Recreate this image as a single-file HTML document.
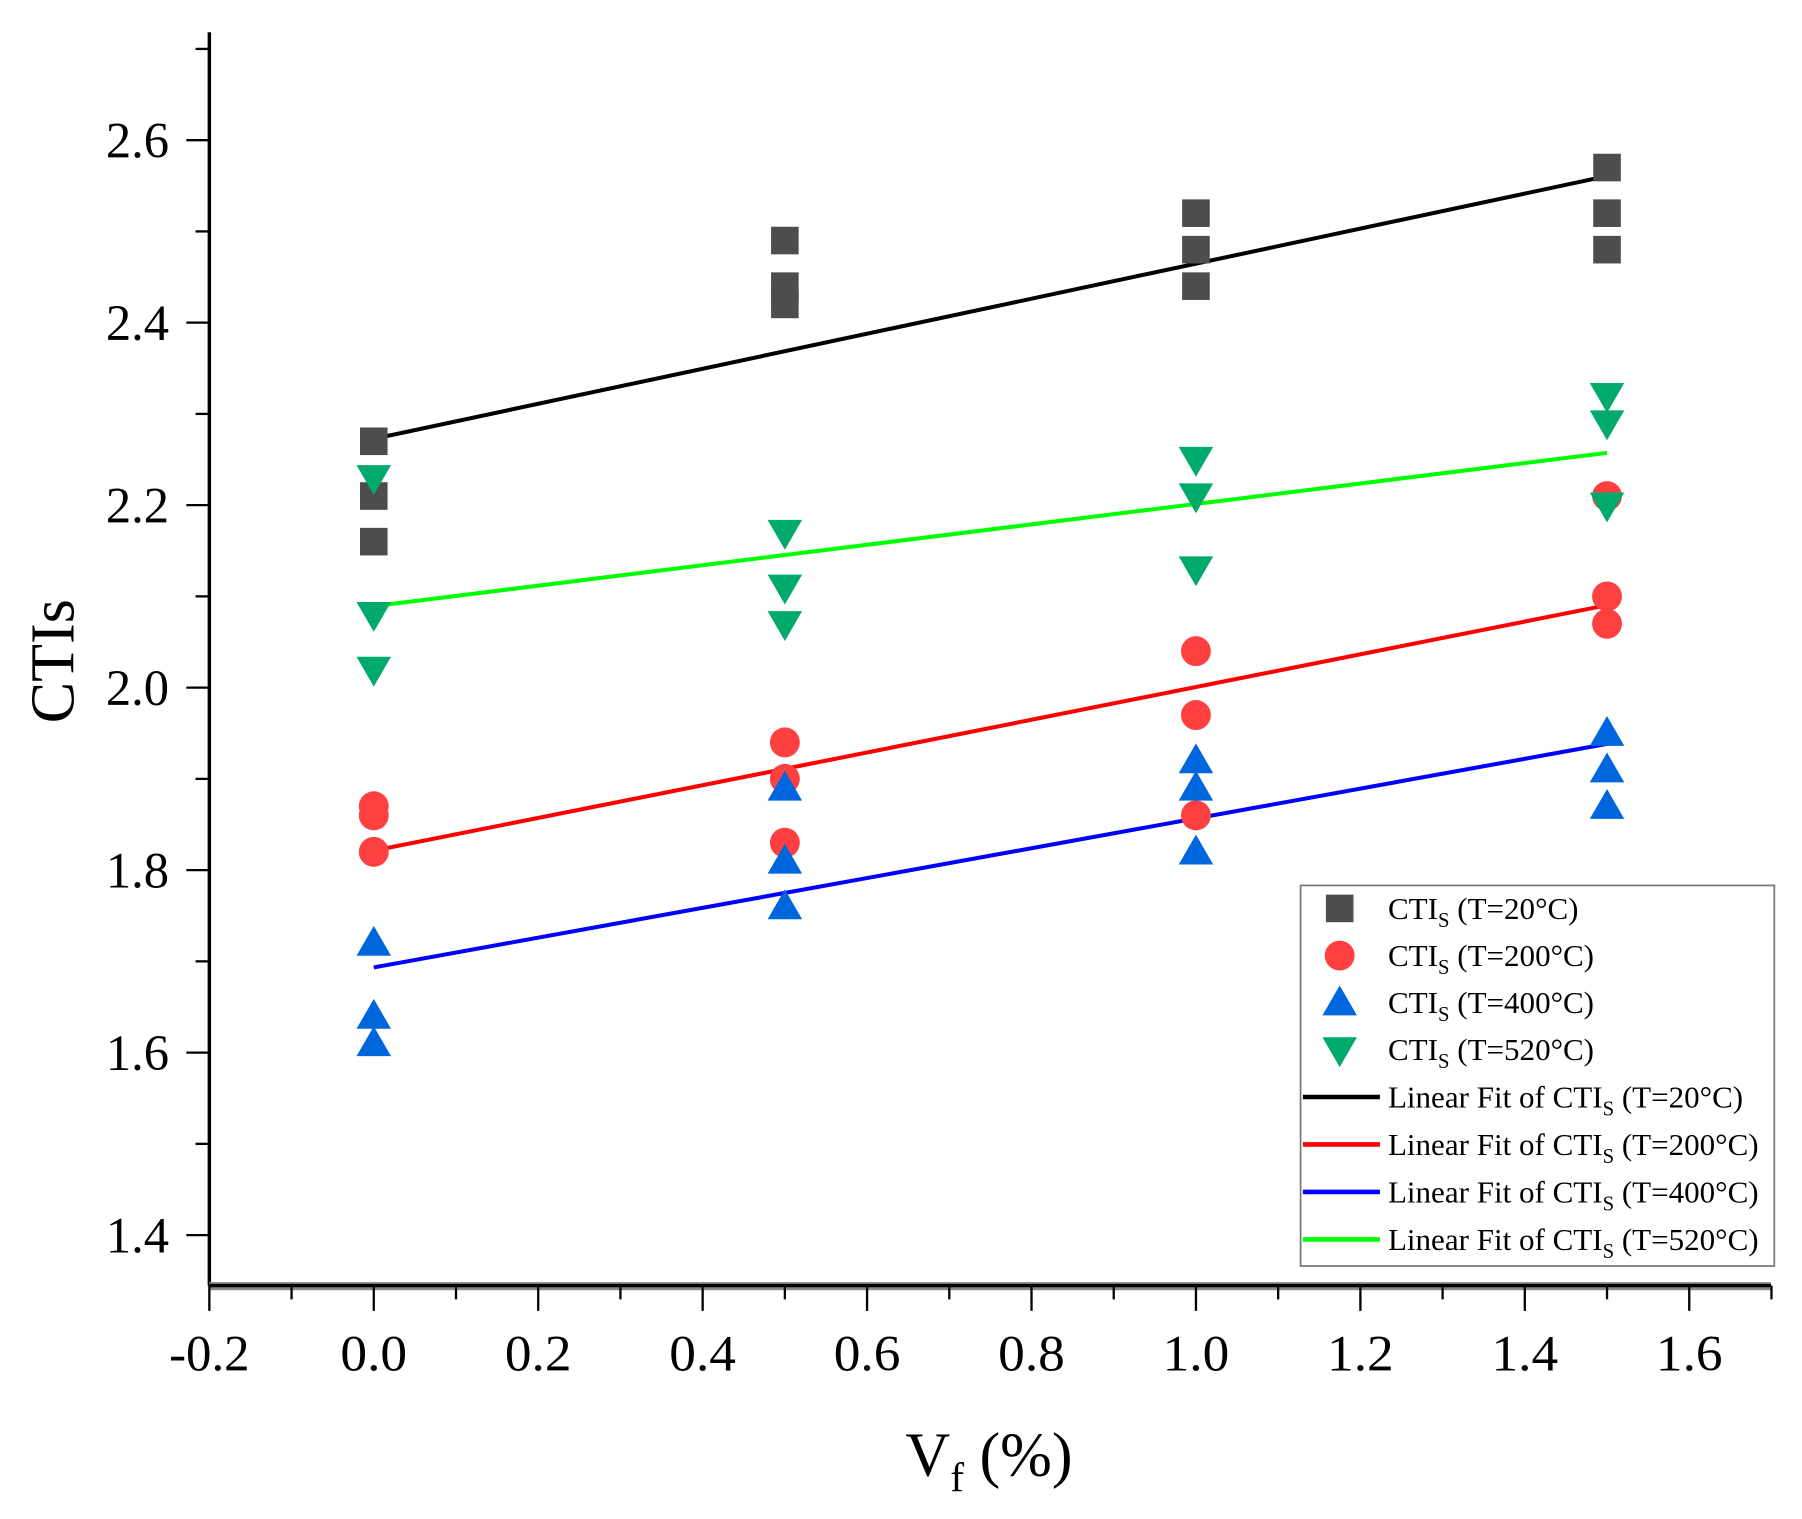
<!DOCTYPE html>
<html><head><meta charset="utf-8"><style>html,body{margin:0;padding:0;background:#fff}svg{display:block}</style></head>
<body>
<svg id="chart" width="1802" height="1519" viewBox="0 0 1567 1321" xmlns="http://www.w3.org/2000/svg" font-family="'Liberation Serif', serif">
<g id="axes"></g><g id="fits"></g><g id="marks"></g><g id="legend"></g>
</svg>
<script>
const xCats = [0, 0.5, 1.0, 1.5];
const s20 = [[2.27, 2.21, 2.16], [2.49, 2.44, 2.42], [2.52, 2.48, 2.44], [2.57, 2.52, 2.48]];
const s200 = [[1.87, 1.86, 1.82], [1.94, 1.90, 1.83], [2.04, 1.97, 1.86], [2.21, 2.10, 2.07]];
const s400 = [[1.72, 1.64, 1.61], [1.89, 1.81, 1.76], [1.92, 1.89, 1.82], [1.95, 1.91, 1.87]];
const s520 = [[2.23, 2.08, 2.02], [2.17, 2.11, 2.07], [2.25, 2.21, 2.13], [2.32, 2.29, 2.20]];
const xTicks = [-0.2, 0, 0.2, 0.4, 0.6, 0.8, 1.0, 1.2, 1.4, 1.6];
const xTickLabels = ["-0.2", "0.0", "0.2", "0.4", "0.6", "0.8", "1.0", "1.2", "1.4", "1.6"];
const yTicks = [1.4, 1.6, 1.8, 2.0, 2.2, 2.4, 2.6];
const yTickLabels = ["1.4", "1.6", "1.8", "2.0", "2.2", "2.4", "2.6"];
const legendTemps = ["20", "200", "400", "520"];

const NS = "http://www.w3.org/2000/svg";
const X0 = 182, X1 = 1540, Y0 = 28, Y1 = 1118;
const sx = v => 325 + (v - 0) * 715;
const sy = v => 598 - (v - 2.0) * 793.5;
function mk(tag, attrs, parent, text) {
  const e = document.createElementNS(NS, tag);
  for (const k in attrs) e.setAttribute(k, attrs[k]);
  if (text !== undefined) e.textContent = text;
  parent.appendChild(e); return e;
}
const axes = document.getElementById('axes');
let e;
e = mk('line', {x1: X0, y1: Y0, x2: X0, y2: Y1, stroke: '#000', 'stroke-width': 3}, axes);
 
e = mk('rect', {x: X0, y: Y1 - 3, width: X1 - X0, height: 7, fill: '#888'}, axes);
 
e = mk('line', {x1: X0, y1: Y1, x2: X1, y2: Y1, stroke: '#000', 'stroke-width': 3}, axes);
 
for (let v = -0.2; v <= 1.7001; v += 0.1) {
  const major = Math.round(v * 10) % 2 === 0;
  const t = mk('line', {x1: sx(v), y1: Y1, x2: sx(v), y2: Y1 + (major ? 22 : 12), stroke: '#000', 'stroke-width': 2}, axes);
   
}
xTicks.forEach((v, i) => {
  const t = mk('text', {x: sx(v), y: 1192, 'font-size': 44, 'text-anchor': 'middle', textLength: v < 0 ? 70 : 58, lengthAdjust: 'spacingAndGlyphs'}, axes, xTickLabels[i]);
   
});
for (let v = 1.4; v <= 2.7001; v += 0.1) {
  const major = Math.round(v * 10) % 2 === 0;
  const t = mk('line', {x1: X0, y1: sy(v), x2: X0 - (major ? 20 : 12), y2: sy(v), stroke: '#000', 'stroke-width': 2}, axes);
   
}
yTicks.forEach((v, i) => {
  const t = mk('text', {x: 147, y: sy(v) + 15, 'font-size': 44, 'text-anchor': 'end'}, axes, yTickLabels[i]);
   
});
e = mk('text', {x: 64, y: 575, 'font-size': 54, 'text-anchor': 'middle', transform: 'rotate(-90 64 575)'}, axes, 'CTIs');
 
e = mk('text', {x: 860, y: 1283, 'font-size': 54, 'text-anchor': 'middle'}, axes);
 
e.innerHTML = 'V<tspan font-size="36" dy="14">f</tspan><tspan dy="-14"> (%)</tspan>';

const series = [
  {d: s20, shape: 'square', fill: '#4d4d4d', line: '#000000', name: 't20'},
  {d: s200, shape: 'circle', fill: '#ff4040', line: '#ff0000', name: 't200'},
  {d: s400, shape: 'up', fill: '#0066dd', line: '#0000ff', name: 't400'},
  {d: s520, shape: 'down', fill: '#00aa6a', line: '#00ff00', name: 't520'}
];
function marker(shape, cx, cy, fill, parent) {
  if (shape === 'square') return mk('rect', {x: cx - 12, y: cy - 12, width: 24, height: 24, fill}, parent);
  if (shape === 'circle') return mk('circle', {cx, cy, r: 13, fill}, parent);
  if (shape === 'up') return mk('polygon', {points: `${cx},${cy - 15} ${cx + 15},${cy + 11} ${cx - 15},${cy + 11}`, fill}, parent);
  return mk('polygon', {points: `${cx},${cy + 15} ${cx + 15},${cy - 11} ${cx - 15},${cy - 11}`, fill}, parent);
}
const marks = document.getElementById('marks'), fits = document.getElementById('fits');
series.forEach(s => {
  const xs = [], ys = [];
  s.d.forEach((grp, i) => grp.forEach(v => {
    xs.push(xCats[i]); ys.push(v);
    const m = marker(s.shape, sx(xCats[i]), sy(v), s.fill, marks);
     
  }));
  const n = xs.length, mx = xs.reduce((a, b) => a + b) / n, my = ys.reduce((a, b) => a + b) / n;
  let num = 0, den = 0;
  for (let i = 0; i < n; i++) { num += (xs[i] - mx) * (ys[i] - my); den += (xs[i] - mx) ** 2; }
  const b = num / den, a = my - b * mx;
  const xa = xCats[0], xb = xCats[xCats.length - 1];
  const l = mk('line', {x1: sx(xa), y1: sy(a + b * xa), x2: sx(xb), y2: sy(a + b * xb), stroke: s.line, 'stroke-width': 3.5}, fits);
   
});
const lg = document.getElementById('legend');
e = mk('rect', {x: 1131, y: 770, width: 412, height: 331, fill: '#fff', stroke: '#777', 'stroke-width': 1.5}, lg);
 
series.forEach((s, i) => {
  const y = 790 + i * 41;
  const m = marker(s.shape, 1165, y, s.fill, lg);
   
  const t = mk('text', {x: 1207, y: y + 9, 'font-size': 27}, lg);
   
  t.innerHTML = `CTI<tspan font-size="18" dy="7">S</tspan><tspan dy="-7"> (T=${legendTemps[i]}°C)</tspan>`;
});
series.forEach((s, i) => {
  const y = 954 + i * 41.3;
  const l = mk('line', {x1: 1133, y1: y, x2: 1200, y2: y, stroke: s.line, 'stroke-width': 4}, lg);
   
  const t = mk('text', {x: 1207, y: y + 9, 'font-size': 27}, lg);
   
  t.innerHTML = `Linear Fit of CTI<tspan font-size="18" dy="7">S</tspan><tspan dy="-7"> (T=${legendTemps[i]}°C)</tspan>`;
});
</script>
</body></html>
